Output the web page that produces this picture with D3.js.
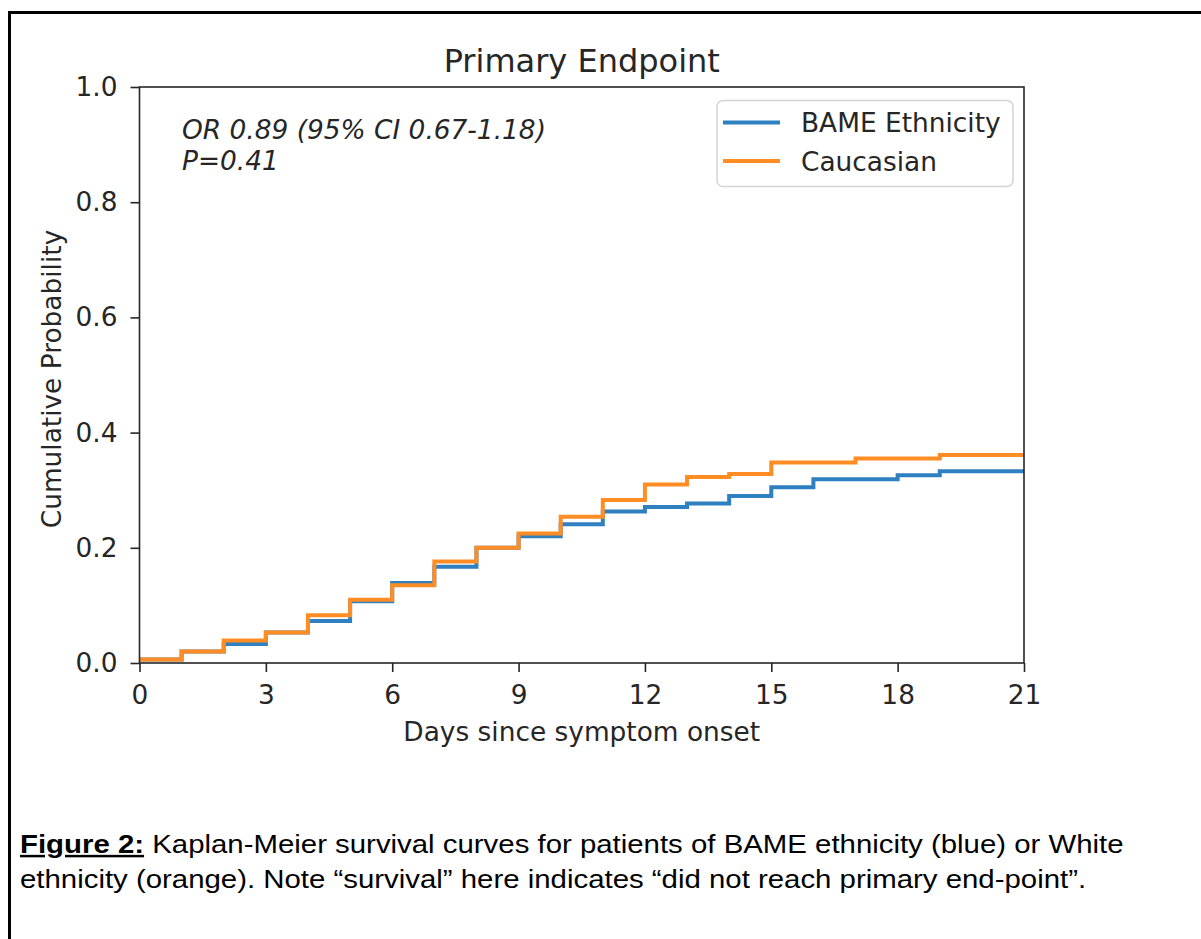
<!DOCTYPE html>
<html>
<head>
<meta charset="utf-8">
<script src="https://cdn.jsdelivr.net/npm/d3@7"></script>
<style>
  body { margin: 0; background: #fff; }
  svg { display: block; }
</style>
</head>
<body>
<svg id="chart" width="1201" height="939"></svg>
<script>
// --- Data (step starts at each whole day) ---
const days = [0, 1, 2, 3, 4, 5, 6, 7, 8, 9, 10, 11, 12, 13, 14, 15, 16, 17, 18, 19, 20, 21];
const bame = [0.006, 0.020, 0.033, 0.053, 0.073, 0.107, 0.139, 0.167, 0.200, 0.220, 0.241,
              0.263, 0.271, 0.277, 0.290, 0.305, 0.319, 0.319, 0.326, 0.333, 0.333, 0.333];
const caucasian = [0.006, 0.020, 0.039, 0.053, 0.083, 0.110, 0.135, 0.176, 0.200, 0.225, 0.254,
                   0.283, 0.310, 0.323, 0.328, 0.348, 0.348, 0.355, 0.355, 0.361, 0.361, 0.361];
const seriesNames = ["BAME Ethnicity", "Caucasian"];
const seriesColors = ["#2f80c0", "#ff8d24"];
const xTicks = [0, 3, 6, 9, 12, 15, 18, 21];
const yTicks = [0, 0.2, 0.4, 0.6, 0.8, 1.0];

const svg = d3.select("#chart");
const font = "'DejaVu Sans', sans-serif";
const ink = "#262626";
const fs = "26.4px";

// page frame (right and bottom edges lie outside the picture)
svg.append("path")
  .attr("d", "M9.5,1000 V12.5 H1300")
  .attr("fill", "none")
  .attr("stroke", "#000")
  .attr("stroke-width", 3);

// --- Scales ---
const x = d3.scaleLinear().domain([0, 21]).range([139.5, 1024]);
const y = d3.scaleLinear().domain([0, 1]).range([663, 87]);

// --- Axes ---
const xAxis = svg.append("g")
  .attr("transform", `translate(0,${y(0)})`)
  .call(d3.axisBottom(x).tickValues(xTicks).tickFormat(d3.format("d")).tickSize(9).tickPadding(13));

const yAxis = svg.append("g")
  .attr("transform", `translate(${x(0)},0)`)
  .call(d3.axisLeft(y).tickValues(yTicks).tickFormat(d3.format(".1f")).tickSize(9).tickPadding(13));

[xAxis, yAxis].forEach(g => {
  g.select(".domain").remove();
  g.selectAll(".tick line").attr("stroke", ink).attr("stroke-width", 1.6);
  g.selectAll(".tick text")
    .attr("fill", ink)
    .style("font-family", font)
    .style("font-size", fs);
});

// --- Step curves ---
const line = d3.line()
  .x((d, i) => x(days[i]))
  .y(d => y(d))
  .curve(d3.curveStepAfter);

const plot = svg.append("g");
[bame, caucasian].forEach((vals, i) => {
  plot.append("path")
    .datum(vals)
    .attr("fill", "none")
    .attr("stroke", seriesColors[i])
    .attr("stroke-width", 4)
    .attr("d", line);
});

// spines
svg.append("rect")
  .attr("x", x(0))
  .attr("y", y(1))
  .attr("width", x(21) - x(0))
  .attr("height", y(0) - y(1))
  .attr("fill", "none")
  .attr("stroke", ink)
  .attr("stroke-width", 1.6);

// --- Annotation ---
const note = svg.append("text")
  .attr("x", 182)
  .attr("y", 139)
  .attr("fill", ink)
  .style("font-family", font)
  .style("font-size", fs)
  .style("font-style", "italic");
note.append("tspan").attr("x", 182).text("OR 0.89 (95% CI 0.67-1.18)");
note.append("tspan").attr("x", 182).attr("dy", 31).text("P=0.41");

// --- Legend ---
const legend = svg.append("g");
legend.append("rect")
  .attr("x", 717)
  .attr("y", 100.5)
  .attr("width", 296)
  .attr("height", 86)
  .attr("rx", 6)
  .attr("fill", "#fff")
  .attr("fill-opacity", 0.8)
  .attr("stroke", "#d4d4d4")
  .attr("stroke-width", 1.5);

seriesNames.forEach((name, i) => {
  const ly = 122.5 + i * 38.5;
  legend.append("line")
    .attr("x1", 723).attr("x2", 780)
    .attr("y1", ly).attr("y2", ly)
    .attr("stroke", seriesColors[i])
    .attr("stroke-width", 4);
  legend.append("text")
    .attr("x", 801)
    .attr("y", ly + 9.5)
    .attr("fill", ink)
    .style("font-family", font)
    .style("font-size", fs)
    .text(name);
});

// --- Titles ---
svg.append("text")
  .attr("x", (x(0) + x(21)) / 2)
  .attr("y", 72)
  .attr("text-anchor", "middle")
  .attr("fill", ink)
  .style("font-family", font)
  .style("font-size", "32px")
  .text("Primary Endpoint");

svg.append("text")
  .attr("x", (x(0) + x(21)) / 2)
  .attr("y", 741)
  .attr("text-anchor", "middle")
  .attr("fill", ink)
  .style("font-family", font)
  .style("font-size", fs)
  .text("Days since symptom onset");

svg.append("text")
  .attr("transform", `translate(61,${(y(0) + y(1)) / 2 + 4}) rotate(-90)`)
  .attr("text-anchor", "middle")
  .attr("fill", ink)
  .style("font-family", font)
  .style("font-size", fs)
  .text("Cumulative Probability");

// --- Caption (the source is stretched sideways, so scale x only) ---
const captionFont = "'Liberation Sans', Arial, sans-serif";
const caption = svg.append("g")
  .attr("transform", "translate(20,0) scale(1.176,1)");

const cap1 = caption.append("text")
  .attr("x", 0)
  .attr("y", 853)
  .attr("fill", "#000")
  .style("font-family", captionFont)
  .style("font-size", "25px");
cap1.append("tspan")
  .style("font-weight", "bold")
  .style("text-decoration", "underline")
  .text("Figure 2:");
cap1.append("tspan").text(" Kaplan-Meier survival curves for patients of BAME ethnicity (blue) or White");

caption.append("text")
  .attr("x", 0)
  .attr("y", 888)
  .attr("fill", "#000")
  .style("font-family", captionFont)
  .style("font-size", "25px")
  .text("ethnicity (orange). Note \u201csurvival\u201d here indicates \u201cdid not reach primary end-point\u201d.");
</script>
</body>
</html>
